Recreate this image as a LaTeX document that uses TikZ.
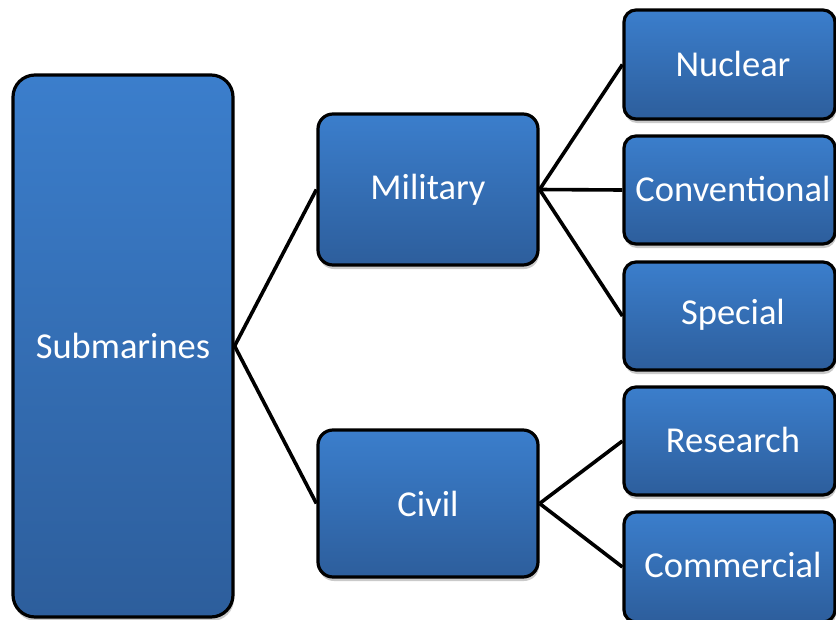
\documentclass[tikz,border=0pt]{standalone}
\usepackage{fontspec}
\setmainfont{Carlito}
\usetikzlibrary{shadows}
\definecolor{boxtop}{RGB}{59,126,204}
\definecolor{boxbot}{RGB}{45,94,156}
\tikzset{
  box/.style={draw=black, line width=3.2pt, rounded corners=#1, top color=boxtop, bottom color=boxbot,
    text=white, font=\fontsize{36.5}{40}\selectfont, inner sep=0pt,
    drop shadow={shadow xshift=1pt, shadow yshift=-4pt, opacity=0.35, fill=black!60}},
  box/.default=14pt,
  lbl/.style={text=white, font=\fontsize{36.5}{40}\selectfont},
  link/.style={draw=black, line width=3.6pt}
}
\begin{document}
\begin{tikzpicture}[x=1pt,y=-1pt]
\useasboundingbox (0,0) rectangle (836,619);
\begin{scope}
\clip (0,0) rectangle (836,619);
\node[box=22pt, minimum width=220pt, minimum height=542pt] (sub) at (123,346) {Submarines};
\node[box=15pt, minimum width=220pt, minimum height=151pt] (mil) at (428,189.5) {Military};
\node[box=15pt, minimum width=220pt, minimum height=147pt] (civ) at (428,503.5) {Civil};
\node[box=12pt, minimum width=211pt, minimum height=109pt] (nuc) at (729.5,64.5) {};
\node[box=12pt, minimum width=211pt, minimum height=108pt] (con) at (729.5,190) {};
\node[box=12pt, minimum width=211pt, minimum height=108pt] (spe) at (729.5,316) {};
\node[box=12pt, minimum width=211pt, minimum height=108pt] (res) at (729.5,441) {};
\node[box=12pt, minimum width=211pt, minimum height=110pt] (com) at (729.5,567) {};
\end{scope}
\node[lbl] (tnuc) at (733,64) {Nuclear};
\node[lbl] (tcon) at (733,189) {Conventional};
\node[lbl] (tspe) at (733,315) {Special};
\node[lbl] (tres) at (733,440) {Research};
\node[lbl] (tcom) at (733,565) {Commercial};
\draw[link] (sub.east) -- (mil.west);
\draw[link] (sub.east) -- (civ.west);
\draw[link] (mil.east) -- (nuc.west);
\draw[link] (mil.east) -- (con.west);
\draw[link] (mil.east) -- (spe.west);
\draw[link] (civ.east) -- (res.west);
\draw[link] (civ.east) -- (com.west);
\end{tikzpicture}
\end{document}
